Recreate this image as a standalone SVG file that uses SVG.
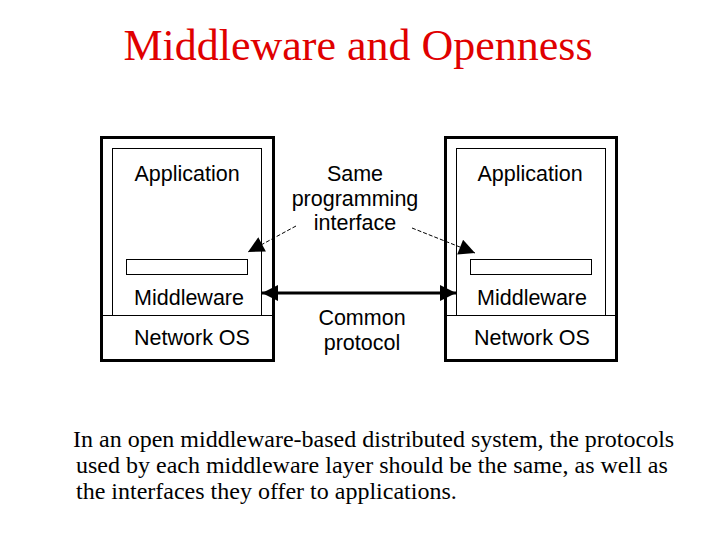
<svg xmlns="http://www.w3.org/2000/svg" width="720" height="540" viewBox="0 0 720 540">
<style>
.lbl{font-family:"Liberation Sans",Arial,sans-serif;font-size:21.5px;fill:#000;text-anchor:middle}
.outer{fill:none;stroke:#000;stroke-width:3}
.thin{fill:none;stroke:#000;stroke-width:1}
.serif{font-family:"Liberation Serif","Times New Roman",serif}
</style>
<defs>
<marker id="ah2" viewBox="0 0 10 10" refX="10" refY="5" markerWidth="18" markerHeight="16" orient="auto-start-reverse" markerUnits="userSpaceOnUse">
<path d="M0,0 L10,5 L0,10 z" fill="#000"/>
</marker>
</defs>
<rect width="720" height="540" fill="#fff"/>
<text x="358" y="60" class="serif" font-size="44" fill="#e00000" text-anchor="middle">Middleware and Openness</text>

<g id="left-host">
<rect class="outer" x="101.5" y="137.5" width="172" height="223"/>
<rect class="thin" x="112.5" y="148.5" width="149" height="167"/>
<line class="thin" x1="101" y1="315.5" x2="273" y2="315.5"/>
<rect class="thin" x="126.5" y="259.5" width="121" height="15"/>
<text x="187" y="181" class="lbl">Application</text>
<text x="189" y="305" class="lbl">Middleware</text>
<text x="192" y="345" class="lbl">Network OS</text>
</g>

<g id="right-host">
<rect class="outer" x="445.5" y="137.5" width="171" height="223"/>
<rect class="thin" x="456.5" y="148.5" width="149" height="167"/>
<line class="thin" x1="445" y1="315.5" x2="617" y2="315.5"/>
<rect class="thin" x="470.5" y="259.5" width="121" height="15"/>
<text x="530" y="181" class="lbl">Application</text>
<text x="532" y="305" class="lbl">Middleware</text>
<text x="532" y="345" class="lbl">Network OS</text>
</g>

<g id="labels">
<text x="355" y="181" class="lbl">Same</text>
<text x="355" y="206" class="lbl">programming</text>
<text x="355" y="230" class="lbl">interface</text>
<text x="362" y="325" class="lbl">Common</text>
<text x="362" y="350" class="lbl">protocol</text>
</g>

<g id="connectors">
<line x1="262" y1="293" x2="456" y2="293" stroke="#000" stroke-width="3" marker-start="url(#ah2)" marker-end="url(#ah2)"/>
<line x1="296" y1="226" x2="248" y2="252" stroke="#000" stroke-width="1" stroke-dasharray="4,2" marker-end="url(#ah2)"/>
<line x1="412" y1="228" x2="475" y2="253" stroke="#000" stroke-width="1" stroke-dasharray="4,2" marker-end="url(#ah2)"/>
</g>

<g class="serif" font-size="24" fill="#000">
<text x="73" y="447">In an open middleware-based distributed system, the protocols</text>
<text x="76" y="473">used by each middleware layer should be the same, as well as</text>
<text x="76" y="499">the interfaces they offer to applications.</text>
</g>
</svg>
